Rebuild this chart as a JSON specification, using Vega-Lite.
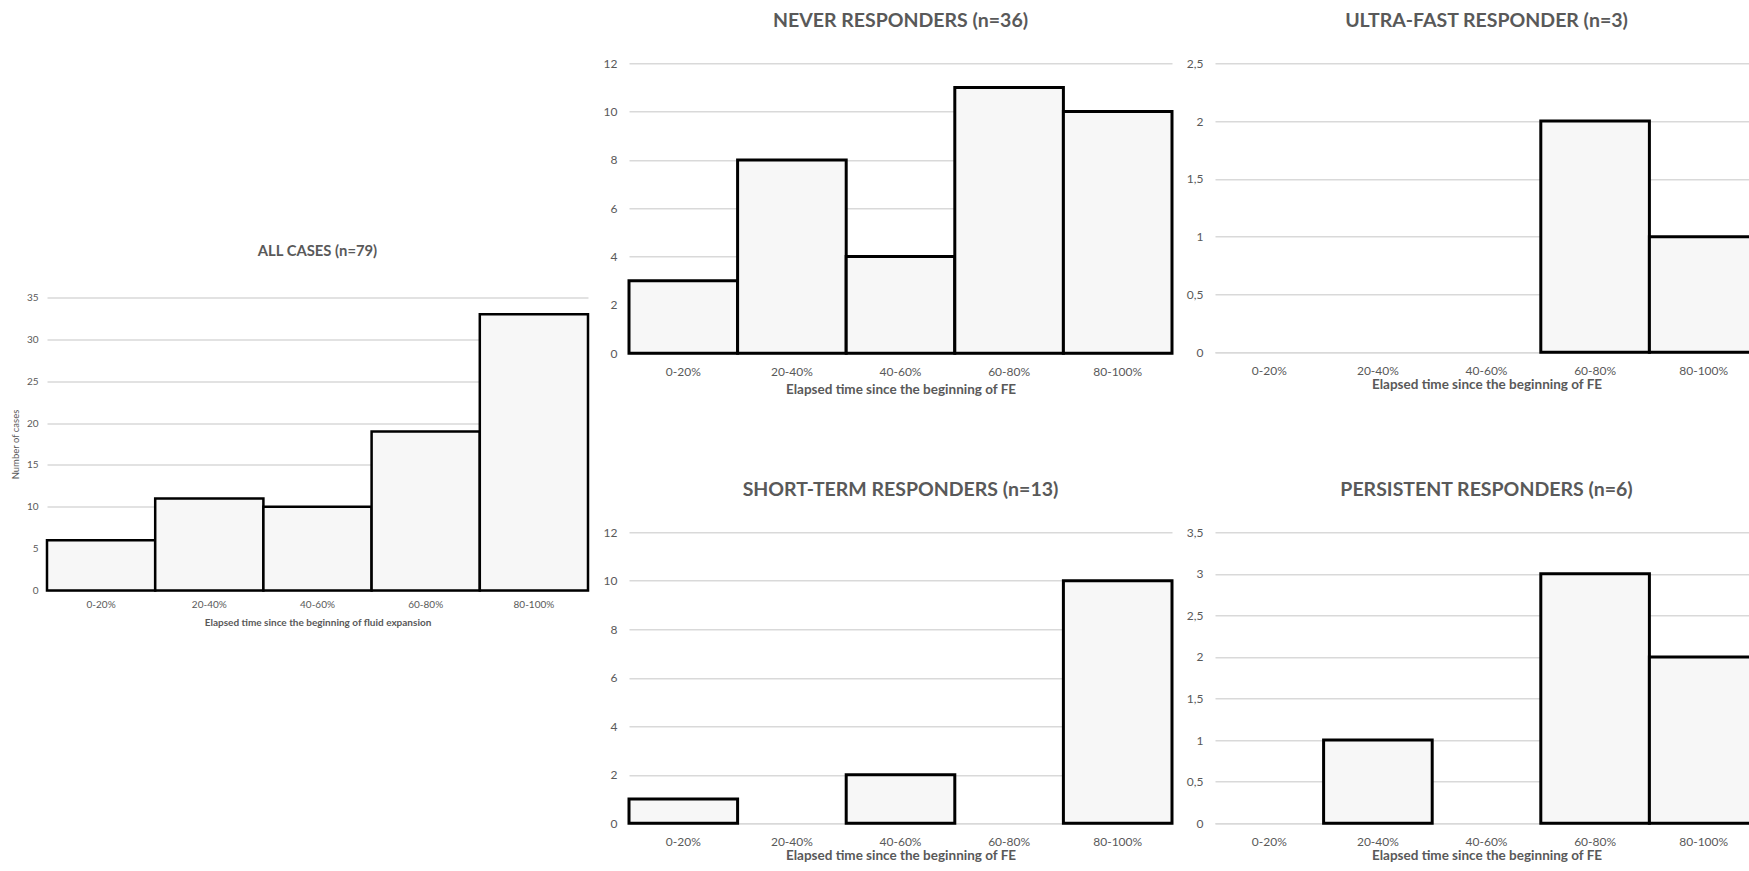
{
  "$schema": "https://vega.github.io/schema/vega-lite/v6.json",
  "padding": {"left": 10, "top": 10, "right": 0, "bottom": 0},
  "background": "white",
  "datasets": {
    "all": [
      {"interval": "0-20%", "count": 6},
      {"interval": "20-40%", "count": 11},
      {"interval": "40-60%", "count": 10},
      {"interval": "60-80%", "count": 19},
      {"interval": "80-100%", "count": 33}
    ],
    "never": [
      {"interval": "0-20%", "count": 3},
      {"interval": "20-40%", "count": 8},
      {"interval": "40-60%", "count": 4},
      {"interval": "60-80%", "count": 11},
      {"interval": "80-100%", "count": 10}
    ],
    "ultra": [
      {"interval": "0-20%", "count": 0},
      {"interval": "20-40%", "count": 0},
      {"interval": "40-60%", "count": 0},
      {"interval": "60-80%", "count": 2},
      {"interval": "80-100%", "count": 1}
    ],
    "short": [
      {"interval": "0-20%", "count": 1},
      {"interval": "20-40%", "count": 0},
      {"interval": "40-60%", "count": 2},
      {"interval": "60-80%", "count": 0},
      {"interval": "80-100%", "count": 10}
    ],
    "persistent": [
      {"interval": "0-20%", "count": 0},
      {"interval": "20-40%", "count": 1},
      {"interval": "40-60%", "count": 0},
      {"interval": "60-80%", "count": 3},
      {"interval": "80-100%", "count": 2}
    ]
  },
  "hconcat": [
    {
      "data": {"name": "all"},
      "width": 541,
      "height": 293,
      "title": {"text": "ALL CASES (n=79)", "fontSize": 14.8, "offset": 33.5},
      "transform": [{"filter": "datum.count > 0"}],
      "mark": {"type": "bar", "fill": "#f7f7f7", "stroke": "black", "strokeWidth": 2.5},
      "encoding": {
        "x": {
          "field": "interval", "type": "nominal", "sort": null,
          "scale": {"domain": ["0-20%", "20-40%", "40-60%", "60-80%", "80-100%"], "paddingInner": 0, "paddingOuter": 0},
          "axis": {"title": "Elapsed time since the beginning of fluid expansion", "labelFontSize": 10, "titleFontSize": 10, "labelPadding": 9, "titlePadding": 8}
        },
        "y": {
          "field": "count", "type": "quantitative",
          "scale": {"domain": [0, 35], "nice": false},
          "axis": {"values": [0, 5, 10, 15, 20, 25, 30, 35], "title": "Number of cases", "titleFontWeight": "normal", "labelFontSize": 10, "titleFontSize": 9.5, "labelPadding": 9, "titlePadding": 6}
        }
      }
    },
    {
      "vconcat": [
        {
          "hconcat": [
            {
              "data": {"name": "never"},
              "width": 543,
              "height": 290,
              "title": {"text": "NEVER RESPONDERS (n=36)", "offset": 26},
              "transform": [{"filter": "datum.count > 0"}],
              "mark": {"type": "bar", "fill": "#f7f7f7", "stroke": "black", "strokeWidth": 3},
              "encoding": {
                "x": {
                  "field": "interval", "type": "nominal", "sort": null,
                  "scale": {"domain": ["0-20%", "20-40%", "40-60%", "60-80%", "80-100%"], "paddingInner": 0, "paddingOuter": 0},
                  "axis": {"title": "Elapsed time since the beginning of FE", "titlePadding": 5}
                },
                "y": {
                  "field": "count", "type": "quantitative",
                  "scale": {"domain": [0, 12], "nice": false},
                  "axis": {"values": [0, 2, 4, 6, 8, 10, 12], "title": null}
                }
              }
            },
            {
              "data": {"name": "ultra"},
              "width": 543,
              "height": 289,
              "title": {"text": "ULTRA-FAST RESPONDER (n=3)", "offset": 26},
              "transform": [{"filter": "datum.count > 0"}],
              "mark": {"type": "bar", "fill": "#f7f7f7", "stroke": "black", "strokeWidth": 3},
              "encoding": {
                "x": {
                  "field": "interval", "type": "nominal", "sort": null,
                  "scale": {"domain": ["0-20%", "20-40%", "40-60%", "60-80%", "80-100%"], "paddingInner": 0, "paddingOuter": 0},
                  "axis": {"title": "Elapsed time since the beginning of FE", "titlePadding": 1}
                },
                "y": {
                  "field": "count", "type": "quantitative",
                  "scale": {"domain": [0, 2.5], "nice": false},
                  "axis": {"values": [0, 0.5, 1, 1.5, 2, 2.5], "format": "~g", "labelExpr": "replace(datum.label, '.', ',')", "title": null}
                }
              }
            }
          ],
          "spacing": 12
        },
        {
          "hconcat": [
            {
              "data": {"name": "short"},
              "width": 543,
              "height": 291,
              "title": {"text": "SHORT-TERM RESPONDERS (n=13)", "offset": 26},
              "transform": [{"filter": "datum.count > 0"}],
              "mark": {"type": "bar", "fill": "#f7f7f7", "stroke": "black", "strokeWidth": 3},
              "encoding": {
                "x": {
                  "field": "interval", "type": "nominal", "sort": null,
                  "scale": {"domain": ["0-20%", "20-40%", "40-60%", "60-80%", "80-100%"], "paddingInner": 0, "paddingOuter": 0},
                  "axis": {"title": "Elapsed time since the beginning of FE", "titlePadding": 1}
                },
                "y": {
                  "field": "count", "type": "quantitative",
                  "scale": {"domain": [0, 12], "nice": false},
                  "axis": {"values": [0, 2, 4, 6, 8, 10, 12], "title": null}
                }
              }
            },
            {
              "data": {"name": "persistent"},
              "width": 543,
              "height": 291,
              "title": {"text": "PERSISTENT RESPONDERS (n=6)", "offset": 26},
              "transform": [{"filter": "datum.count > 0"}],
              "mark": {"type": "bar", "fill": "#f7f7f7", "stroke": "black", "strokeWidth": 3},
              "encoding": {
                "x": {
                  "field": "interval", "type": "nominal", "sort": null,
                  "scale": {"domain": ["0-20%", "20-40%", "40-60%", "60-80%", "80-100%"], "paddingInner": 0, "paddingOuter": 0},
                  "axis": {"title": "Elapsed time since the beginning of FE", "titlePadding": 1}
                },
                "y": {
                  "field": "count", "type": "quantitative",
                  "scale": {"domain": [0, 3.5], "nice": false},
                  "axis": {"values": [0, 0.5, 1, 1.5, 2, 2.5, 3, 3.5], "format": "~g", "labelExpr": "replace(datum.label, '.', ',')", "title": null}
                }
              }
            }
          ],
          "spacing": 12
        }
      ],
      "spacing": 83
    }
  ],
  "spacing": 13,
  "center": true,
  "config": {
    "font": "Lato",
    "view": {"stroke": null},
    "title": {"font": "Lato", "fontSize": 19.5, "fontWeight": "bold", "color": "#595959", "anchor": "middle"},
    "axis": {
      "labelFont": "Lato", "titleFont": "Lato", "labelColor": "#595959", "titleColor": "#595959",
      "labelFontSize": 12, "titleFontSize": 13.5, "titleFontWeight": "bold",
      "ticks": false, "tickSize": 0, "gridColor": "#d9d9d9", "gridWidth": 1.3
    },
    "axisX": {"grid": false, "domain": true, "domainColor": "#d9d9d9", "domainWidth": 1.3, "labelAngle": 0, "labelPadding": 13, "titlePadding": 4},
    "axisY": {"domain": false, "grid": true, "labelPadding": 12}
  }
}
